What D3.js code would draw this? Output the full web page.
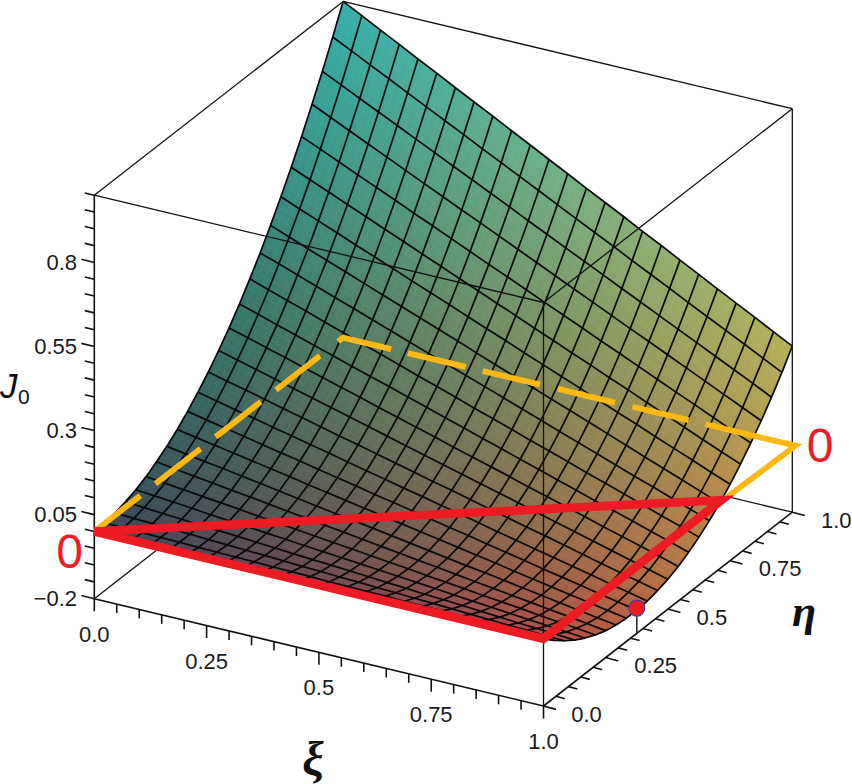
<!DOCTYPE html>
<html><head><meta charset="utf-8">
<script src="https://d3js.org/d3.v7.min.js"></script>
<style>html,body{margin:0;padding:0;background:#fff}svg{display:block}text{font-family:"Liberation Sans",Arial,sans-serif}</style>
</head><body><svg id="c" width="852" height="784"></svg>
<script>
// rows run eta = 0 .. 1, columns run xi = 0 .. 1 (24 cells each way)
const J0 = [
[0,0,0,0,0,0,0,0,0,0,0,0,0,0,0,0,0,0,0,0,0,0,0,0,0],
[.002,0,-.001,-.002,-.003,-.005,-.006,-.007,-.008,-.010,-.011,-.012,-.014,-.015,-.016,-.017,-.019,-.020,-.021,-.023,-.024,-.025,-.026,-.028,-.029],
[.007,.004,.002,-.001,-.003,-.006,-.008,-.011,-.013,-.016,-.019,-.021,-.024,-.026,-.029,-.031,-.034,-.036,-.039,-.042,-.044,-.047,-.049,-.052,-.054],
[.016,.012,.008,.004,0,-.003,-.007,-.011,-.015,-.019,-.023,-.026,-.030,-.034,-.038,-.042,-.046,-.049,-.053,-.057,-.061,-.065,-.068,-.072,-.076],
[.028,.023,.018,.013,.007,.002,-.003,-.008,-.013,-.018,-.023,-.028,-.033,-.038,-.043,-.048,-.053,-.059,-.064,-.069,-.074,-.079,-.084,-.089,-.094],
[.043,.037,.031,.024,.018,.012,.005,-.001,-.007,-.014,-.020,-.026,-.033,-.039,-.045,-.052,-.058,-.064,-.071,-.077,-.083,-.090,-.096,-.102,-.109],
[.063,.055,.047,.040,.032,.025,.017,.009,.002,-.006,-.013,-.021,-.029,-.036,-.044,-.051,-.059,-.067,-.074,-.082,-.089,-.097,-.104,-.112,-.120],
[.085,.076,.067,.059,.050,.041,.032,.023,.014,.005,-.003,-.012,-.021,-.030,-.039,-.048,-.057,-.065,-.074,-.083,-.092,-.101,-.110,-.119,-.127],
[.111,.101,.091,.081,.071,.061,.051,.040,.030,.020,.010,0,-.010,-.020,-.030,-.040,-.050,-.060,-.071,-.081,-.091,-.101,-.111,-.121,-.131],
[.141,.129,.118,.107,.095,.084,.073,.061,.050,.039,.027,.016,.005,-.007,-.018,-.029,-.041,-.052,-.063,-.075,-.086,-.097,-.109,-.120,-.131],
[.174,.161,.148,.136,.123,.111,.098,.086,.073,.060,.048,.035,.023,.010,-.002,-.015,-.028,-.040,-.053,-.065,-.078,-.090,-.103,-.115,-.128],
[.210,.196,.183,.169,.155,.141,.127,.113,.100,.086,.072,.058,.044,.031,.017,.003,-.011,-.025,-.038,-.052,-.066,-.080,-.094,-.107,-.121],
[.250,.235,.220,.205,.190,.175,.160,.145,.130,.115,.100,.085,.070,.055,.040,.025,.010,-.006,-.021,-.036,-.051,-.066,-.081,-.096,-.111],
[.293,.277,.261,.245,.228,.212,.196,.180,.163,.147,.131,.115,.098,.082,.066,.050,.033,.017,.001,-.015,-.032,-.048,-.064,-.080,-.097],
[.340,.323,.305,.288,.270,.253,.235,.218,.201,.183,.166,.148,.131,.113,.096,.078,.061,.043,.026,.008,-.009,-.026,-.044,-.061,-.079],
[.391,.372,.353,.335,.316,.297,.278,.260,.241,.222,.204,.185,.166,.148,.129,.110,.092,.073,.054,.036,.017,-.002,-.021,-.039,-.058],
[.444,.425,.405,.385,.365,.345,.325,.305,.285,.265,.245,.226,.206,.186,.166,.146,.126,.106,.086,.066,.046,.027,.007,-.013,-.033],
[.502,.481,.459,.438,.417,.396,.375,.354,.333,.312,.291,.269,.248,.227,.206,.185,.164,.143,.122,.101,.079,.058,.037,.016,-.005],
[.563,.540,.518,.496,.473,.451,.429,.406,.384,.362,.339,.317,.295,.272,.250,.228,.206,.183,.161,.139,.116,.094,.072,.049,.027],
[.627,.603,.580,.556,.533,.509,.486,.462,.439,.415,.392,.368,.345,.321,.298,.274,.251,.227,.204,.180,.157,.133,.109,.086,.063],
[.694,.670,.645,.620,.596,.571,.546,.522,.497,.472,.447,.423,.398,.373,.349,.324,.299,.275,.250,.225,.200,.176,.151,.126,.102],
[.766,.740,.714,.688,.662,.636,.610,.584,.558,.533,.507,.481,.455,.429,.403,.377,.351,.325,.300,.274,.248,.222,.196,.170,.144],
[.840,.813,.786,.759,.732,.705,.678,.651,.624,.597,.570,.542,.515,.488,.461,.434,.407,.380,.353,.326,.299,.272,.245,.218,.190],
[.918,.890,.862,.834,.805,.777,.749,.721,.692,.664,.636,.608,.579,.551,.523,.495,.466,.438,.410,.381,.353,.325,.297,.268,.240],
[1,.971,.941,.912,.882,.853,.823,.794,.765,.735,.706,.676,.647,.617,.588,.559,.529,.500,.470,.441,.411,.382,.353,.323,.294]
];
const xiLabels = ["0.0","0.25","0.5","0.75","1.0"];
const etaLabels = ["0.0","0.25","0.5","0.75","1.0"];
const zLabels = ["\u22120.2","0.05","0.3","0.55","0.8"];
const zTickVals = [-.2,.05,.3,.55,.8];
const redTriangle = [[0,0,0],[1,0,0],[1,.715,0]];
const yellowLegXi0 = [[0,.185],[.246,.427],[.488,.669],[.73,.907]];
const yellowCorner = [[0,.98,0],[0,1,0],[.107,1,0]];
const yellowLegEta1 = [[.144,.273],[.311,.438],[.478,.605],[.644,.769]];
const yellowEnd = [[.807,1,0],[1.007,1,0],[1,.58,0]];
const redPoint = [1,.375,-.125];
const NAVY="#3b3f9c", RED="#ed1c24", YEL="#fdb913", INK="#111";

const svg = d3.select("#c");
const xiX=d3.scaleLinear([0,1],[0,449.2]), xiY=d3.scaleLinear([0,1],[0,107.3]);
const etaX=d3.scaleLinear([0,1],[0,248.8]), etaY=d3.scaleLinear([0,1],[0,-193.8]);
const zY=d3.scaleLinear([-.2,1],[0,-403.5]);
const P=(a,b,c)=>[94.3+xiX(a)+etaX(b), 598.7+xiY(a)+etaY(b)+zY(c)];
const line=d3.line();
const seg=(g,pts,w,col,extra)=>{const p=g.append("path").attr("d",line(pts)).attr("fill","none").attr("stroke",col).attr("stroke-width",w);if(extra)extra(p);return p;};

const rS=d3.scaleLinear([0,.5,1],[54,116,182]);
const gS=d3.scaleLinear([0,.35,.7,1],[68,96,134,176]);
const bS=d3.scaleLinear([-.13,0,.3,1],[64,74,90,160]);
const colour=(a,b,c)=>`rgb(${Math.round(rS(a))},${Math.round(gS(b))},${Math.round(bS(c)+14*(1-a))})`;

// back of the box
const back=svg.append("g");
[[[0,0,1],[0,1,1]],[[0,1,1],[1,1,1]],[[1,1,1],[1,1,-.2]],[[0,0,-.2],[0,1,-.2]],[[0,1,-.2],[1,1,-.2]]]
 .forEach(s=>seg(back,s.map(q=>P(...q)),1.3,INK));

// surface fill
const N=24, SUB=3;
const bil=(i,j,u,v)=>{
 const a=J0[j][i],b=J0[j][i+1],c=J0[j+1][i],d=J0[j+1][i+1];
 return a*(1-u)*(1-v)+b*u*(1-v)+c*(1-u)*v+d*u*v;
};
const pt=(i,j,u,v)=>P((i+u)/N,(j+v)/N,bil(i,j,u,v));
const quads=[];
for(let j=N-1;j>=0;j--)for(let i=0;i<N;i++)for(let s=SUB-1;s>=0;s--)for(let t=0;t<SUB;t++){
 const u0=t/SUB,u1=(t+1)/SUB,v0=s/SUB,v1=(s+1)/SUB;
 quads.push({pts:[pt(i,j,u0,v0),pt(i,j,u1,v0),pt(i,j,u1,v1),pt(i,j,u0,v1)],
   col:colour((i+(u0+u1)/2)/N,(j+(v0+v1)/2)/N,bil(i,j,(u0+u1)/2,(v0+v1)/2))});
}
svg.append("g").selectAll("path").data(quads).join("path")
 .attr("d",d=>line(d.pts)+"Z").attr("fill",d=>d.col).attr("stroke",d=>d.col).attr("stroke-width",.6);

// mesh
const mesh=svg.append("g").attr("fill","none").attr("stroke","#0a0a0a").attr("stroke-width",1.7).attr("stroke-linejoin","round");
J0.forEach((row,j)=>mesh.append("path").attr("d",line(row.map((z,i)=>P(i/N,j/N,z)))));
d3.range(N+1).forEach(i=>mesh.append("path").attr("d",line(J0.map((row,j)=>P(i/N,j/N,row[i])))));

// front of the box and axes
const front=svg.append("g");
[[[0,0,1],[1,0,1]],[[1,0,1],[1,1,1]],[[1,0,1],[1,0,-.2]]].forEach(s=>seg(front,s.map(q=>P(...q)),1.3,INK));
[[[0,0,-.2],[0,0,1]],[[0,0,-.2],[1,0,-.2]],[[1,0,-.2],[1,1,-.2]]].forEach(s=>seg(front,s.map(q=>P(...q)),1.6,INK));
const isMajor=k=>k%5===0;
d3.range(21).forEach(k=>{
 const v=k/20, L=isMajor(k)?12.5:9;
 let a=P(v,0,-.2); seg(front,[a,[a[0],a[1]+L]],1.6,INK);
 a=P(1,v,-.2); seg(front,[a,[a[0]+L,a[1]+L*.27]],1.6,INK);
});
d3.range(25).forEach(k=>{
 const v=-.2+k*.05, L=isMajor(k)?13:9.5;
 const a=P(0,0,v); seg(front,[a,[a[0]-L,a[1]-L*.24]],1.6,INK);
});

// tick labels
const lab=svg.append("g").attr("font-size",22).attr("fill","#1a1a1a");
zLabels.forEach((t,k)=>{const a=P(0,0,zTickVals[k]);lab.append("text").attr("x",77).attr("y",a[1]+7.5).attr("text-anchor","end").text(t);});
xiLabels.forEach((t,k)=>{const a=P(k/4,0,-.2);lab.append("text").attr("x",a[0]).attr("y",a[1]+43).attr("text-anchor","middle").text(t);});
const etaDx=[43,50,44,50,44];
etaLabels.forEach((t,k)=>{const a=P(1,k/4,-.2);lab.append("text").attr("x",a[0]+etaDx[k]).attr("y",a[1]+15.5).attr("text-anchor","middle").text(t);});

// zero lines
const ye=svg.append("g");
const yw=5.8;
yellowLegXi0.forEach(d=>seg(ye,[P(0,d[0],0),P(0,d[1],0)],yw,YEL));
seg(ye,yellowCorner.map(q=>P(...q)),yw,YEL);
yellowLegEta1.forEach(d=>seg(ye,[P(d[0],1,0),P(d[1],1,0)],yw,YEL));
seg(ye,yellowEnd.map(q=>P(...q)),yw,YEL);
svg.append("path").attr("d",line(redTriangle.map(q=>P(...q)))+"Z").attr("fill","none").attr("stroke",RED).attr("stroke-width",8.6).attr("stroke-linejoin","miter");

// marked point
const rp=P(...redPoint), rb=P(redPoint[0],redPoint[1],-.2);
seg(svg,[rp,rb],1.4,INK);
svg.append("circle").attr("cx",rp[0]).attr("cy",rp[1]).attr("r",8).attr("fill",RED).attr("stroke",NAVY).attr("stroke-width",1.1);

// big zeros and axis titles
svg.append("text").attr("x",69.5).attr("y",568).attr("text-anchor","middle").attr("font-size",48).attr("fill",RED).text("0");
svg.append("text").attr("x",820).attr("y",462).attr("text-anchor","middle").attr("font-size",48).attr("fill",RED).text("0");
svg.append("text").attr("x",0).attr("y",398).attr("font-size",35).attr("font-style","italic").attr("fill","#111").text("J");
svg.append("text").attr("x",18).attr("y",404).attr("font-size",21).attr("fill","#111").text("0");
svg.append("text").attr("x",313).attr("y",775).attr("text-anchor","middle").attr("font-size",48).attr("font-style","italic").attr("font-weight","bold").style("font-family","'Liberation Serif',serif").attr("fill","#111").text("\u03BE");
svg.append("text").attr("x",804).attr("y",626).attr("text-anchor","middle").attr("font-size",44).attr("font-style","italic").attr("font-weight","bold").style("font-family","'Liberation Serif',serif").attr("fill","#111").text("\u03B7");
</script></body></html>
